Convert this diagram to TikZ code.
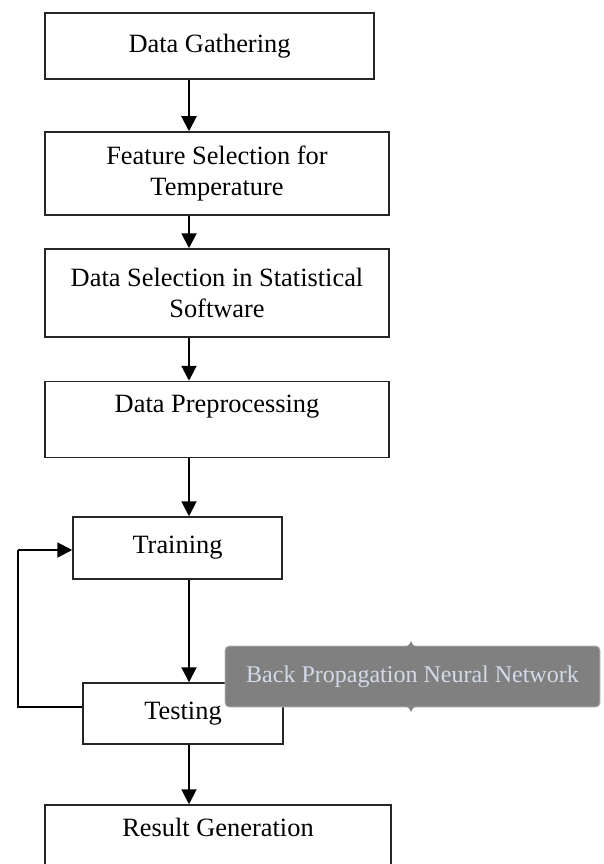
\documentclass[tikz,border=0pt]{standalone}
\usepackage{fontspec}
\setmainfont{Liberation Serif}
\usetikzlibrary{calc,arrows.meta}

\definecolor{bpgray}{HTML}{808080}
\definecolor{bptext}{HTML}{D3DBE8}

\tikzset{
	procbox/.style={draw=black!85, line width=1.5pt, fill=white, align=center,
		inner sep=0pt, font=\fontsize{26.4}{31}\selectfont},
	flowarrow/.style={line width=2pt, -{Triangle[length=15pt,width=15pt]}},
}

\begin{document}
\begin{tikzpicture}[x=1pt,y=-1pt]
				\useasboundingbox (0,0) rectangle (603,864);
				\coordinate (ax) at (189,0);
				\coordinate (fbl) at (18,707);
				\coordinate (fbt) at (18,550);
				\node[procbox, minimum width=329pt, minimum height=66pt] (gather) at (209.5,46) {Data Gathering};
				\node[procbox, minimum width=344pt, minimum height=83pt] (feat) at (217,173.5) {Feature Selection for\\Temperature};
				\node[procbox, minimum width=344pt, minimum height=88pt] (dsel) at (217,293) {Data Selection in Statistical\\Software};
				\node[procbox, minimum width=344pt, minimum height=76pt] (prep) at (217,419.5) {Data Preprocessing\\~};
				\node[procbox, minimum width=209pt, minimum height=62pt] (train) at (177.5,548) {Training};
				\node[procbox, minimum width=200pt, minimum height=61pt] (test) at (183,713.5) {Testing};
				\node[procbox, minimum width=346pt, minimum height=76pt] (result) at (218,843) {Result Generation\\~};
				\draw[flowarrow] (gather.south -| ax) -- (feat.north -| ax);
				\draw[flowarrow] (feat.south -| ax) -- (dsel.north -| ax);
				\draw[flowarrow] (dsel.south -| ax) -- (prep.north -| ax);
				\draw[flowarrow] (prep.south -| ax) -- (train.north -| ax);
				\draw[flowarrow] (train.south -| ax) -- (test.north -| ax);
				\draw[flowarrow] (test.south -| ax) -- (result.north -| ax);
				% feedback from testing back to training
				\draw[line width=2pt] (test.west |- fbl) -- (fbl) -- (fbt);
				\draw[flowarrow] (fbt) -- (train.west |- fbt);
				% label box over the testing step
				\node[fill=bpgray, draw=black!25, line width=0.8pt, rounded corners=4pt,
					minimum width=375pt, minimum height=61pt, inner sep=0pt, text=bptext,
					font=\fontsize{24}{28}\selectfont] (bpnn) at (412.5,676.5) {Back Propagation Neural Network};
				\fill[bpgray] (405,646.5) .. controls (409,645.5) .. (411,641) .. controls (413,645.5) .. (417,646.5) -- cycle;
				\fill[bpgray] (405,706.5) .. controls (409,707.5) .. (411,712) .. controls (413,707.5) .. (417,706.5) -- cycle;
			\end{tikzpicture}
\end{document}
